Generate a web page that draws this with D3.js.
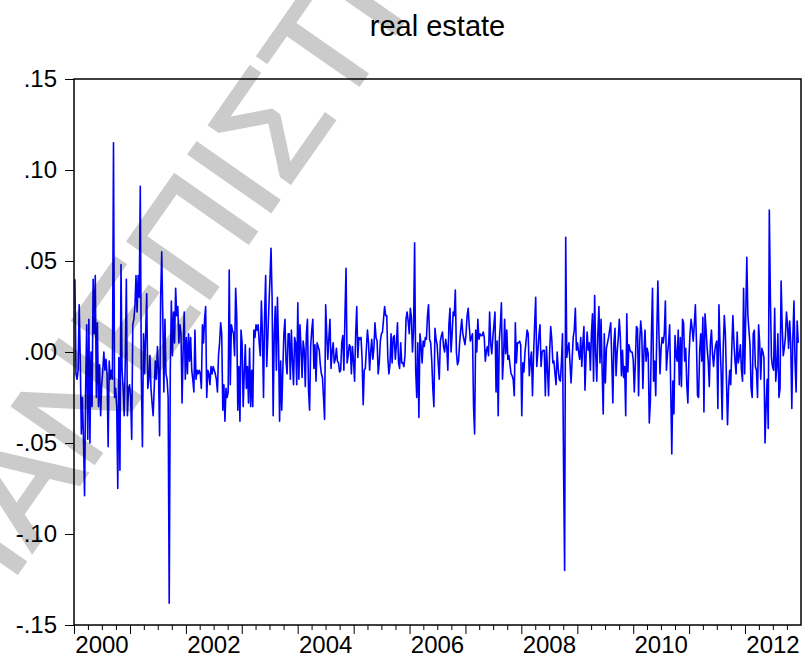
<!DOCTYPE html>
<html>
<head>
<meta charset="utf-8">
<script src="https://cdn.jsdelivr.net/npm/d3@7"></script>
<style>
    body { margin: 0; background: #fff; }
    svg { display: block; font-family: "Liberation Sans", Arial, sans-serif; }
</style>
</head>
<body>
<div id="chartContainer"></div>
<script>
/***** Data: weekly returns, one array per year (52 weeks each) */

const chartTitle = 'real estate';
const watermarkText = 'ΠΑΝΕΠΙΣΤΗΜΙΟ';
const years = [2000, 2001, 2002, 2003, 2004, 2005, 2006, 2007, 2008, 2009, 2010, 2011, 2012];
const firstWeek = '2000-01-07';

const r2000 = [.040,-.012,-.015,-.010,.026,-.005,-.045,-.025,-.048,-.079,-.020,.015,-.048,.018,-.050,.000,-.030,.040,.010,.042,-.025,.016,-.030,-.007,-.035,-.018,-.010,.000,-.010,-.004,-.012,-.052,-.005,-.015,-.010,-.015,.115,-.025,-.020,-.030,-.075,-.003,-.065,.048,-.010,-.020,-.035,-.005,.040,-.035,-.020,-.018];
const r2001 = [-.025,-.048,.015,.018,.025,.042,.022,.042,.030,.091,-.015,-.052,.010,-.012,.010,.032,-.020,-.015,-.002,-.020,-.028,-.035,-.020,-.005,-.015,.003,-.010,-.046,.030,.055,.020,-.022,.018,-.012,-.015,-.025,-.138,-.010,.028,-.002,.022,.005,.035,.020,.025,.005,.015,.010,-.028,.002,.022,-.015];
const r2002 = [.008,-.012,.010,-.005,.008,-.010,-.015,-.022,.012,-.015,-.010,-.012,-.010,-.012,-.020,.015,.005,.018,.025,-.025,-.010,-.012,-.018,-.008,-.012,-.008,-.010,-.012,-.015,-.022,-.002,.005,.016,.010,-.032,-.018,-.038,-.020,-.025,-.022,.045,-.018,.015,.012,.010,-.002,.035,.020,-.032,-.008,-.038,.012];
const r2003 = [.005,-.030,-.012,.004,-.020,-.008,-.028,.002,-.030,-.010,-.030,.012,.008,.015,.012,.015,.005,-.002,.028,.010,-.025,.020,.042,-.008,.008,.025,.040,.057,.030,-.035,.010,.025,-.010,.030,.005,-.038,-.005,-.032,-.010,.010,.018,-.005,-.012,.010,.010,-.015,.012,-.005,-.018,.008,.005,-.018];
const r2004 = [.027,-.015,.015,.002,-.014,.006,.001,-.019,.010,.018,-.021,-.032,.003,.012,.018,-.009,.004,-.016,.005,.003,.001,-.007,-.012,-.014,-.025,-.037,.026,.010,-.004,.008,.018,-.009,.000,.005,-.006,-.004,.002,-.005,-.006,-.011,-.010,.005,.009,-.010,.020,.046,-.006,-.002,.004,.003,-.012,.003];
const r2005 = [-.005,-.016,.010,.025,-.003,.008,.007,.008,-.004,-.029,-.010,-.009,.002,.012,.005,-.010,.000,.007,-.004,.002,.016,.008,.006,-.012,-.006,.006,.010,.011,.018,.025,.020,.020,-.003,-.012,-.007,.010,-.006,.008,.009,-.004,.004,.016,-.006,-.009,.005,-.006,-.006,-.008,-.002,.018,.022,.017];
const r2006 = [.010,.024,.019,.000,.012,.060,-.010,-.025,.005,-.036,.010,.004,-.006,.006,.003,.008,.007,.020,.026,.007,.005,-.005,-.020,-.030,.013,.007,.004,-.006,-.015,.006,.009,.011,.003,.000,.007,.003,-.010,.015,.024,.000,.010,.022,.020,.034,.000,-.007,-.005,.005,.012,.018,.010,.007];
const r2007 = [.004,.010,.020,.024,.014,.006,.008,.010,-.030,-.045,.012,.000,.018,.007,.010,.009,.009,.011,.008,-.005,.001,.003,-.002,.022,.005,-.001,.008,.015,.022,-.022,.006,-.035,.006,.015,.027,-.015,-.003,.018,-.001,.012,-.004,-.002,-.007,-.012,-.013,-.015,-.024,.016,-.006,.005,.005,.006];
const r2008 = [.004,-.035,-.006,-.011,.000,.006,.012,.010,-.013,-.005,.000,-.024,-.002,.015,.030,-.008,.000,.009,.015,-.008,.000,.001,.001,-.024,.003,-.010,-.024,.000,.014,.007,-.006,-.005,-.012,-.018,.000,-.009,-.015,-.016,-.006,.010,-.063,-.120,.063,-.003,.002,.005,-.006,-.017,-.004,.008,.012,.024];
const r2009 = [.001,.005,.000,-.004,.008,-.008,.005,.014,-.021,-.002,.011,.001,.005,-.010,.010,.021,-.016,.031,-.001,-.016,.010,.025,-.006,.018,-.010,-.034,.010,-.017,.002,.005,.008,.012,.016,-.004,-.028,.005,.013,-.013,.000,.007,.018,.008,-.013,.001,-.014,-.008,-.035,.021,-.011,.004,.001,.000];
const r2010 = [.000,-.004,-.022,-.006,.014,.013,-.024,.005,.017,.010,-.020,.000,.012,-.005,.002,-.001,-.039,-.027,.010,.035,-.016,-.005,-.024,.010,.039,.010,-.012,.002,.008,.005,.010,.028,-.010,-.001,.005,.015,-.020,-.056,-.016,-.034,.009,-.002,-.005,.012,-.018,.008,-.019,.018,.016,-.005,.002,-.018];
const r2011 = [-.028,-.003,.010,.018,.013,.006,.015,.026,.006,-.024,-.025,.000,.010,-.005,.019,-.033,.021,.012,.002,-.005,-.019,.005,.012,-.001,-.008,.000,.004,.006,-.031,.026,.005,-.010,-.037,.002,.020,.010,-.015,-.040,-.020,-.010,-.018,.002,.020,.005,-.005,-.012,.011,-.006,-.002,.004,-.010,-.016];
const r2012 = [.035,-.012,.020,.052,.020,.012,.004,-.020,-.025,.010,.012,-.008,-.010,-.025,.015,.005,-.015,.002,.000,-.003,-.050,-.030,-.015,-.042,.078,.030,-.003,-.008,-.010,.024,-.016,-.008,.010,-.025,-.020,.039,.015,-.002,.002,.008,.022,.015,.002,.017,.005,-.031,.008,.028,-.005,-.022,.017,.005];

const yTickValues = [-0.15, -0.10, -0.05, 0, 0.05, 0.10, 0.15];
const yTickLabels = ['-.15', '-.10', '-.05', '.00', '.05', '.10', '.15'];
const xLabelYears = [2000, 2002, 2004, 2006, 2008, 2010, 2012];

/***** Chart */

// input:
//  containerId - html id of the element the svg goes into
// output:
//  none
function drawChart (containerId) {
    const width = 804;
    const height = 666;
    const margin = { top: 79, right: 3, bottom: 41, left: 74 };

    const svg = d3.select(`#${containerId}`).append('svg')
        .attr('width', width)
        .attr('height', height);

    const allReturns = [].concat(r2000, r2001, r2002, r2003, r2004, r2005, r2006,
        r2007, r2008, r2009, r2010, r2011, r2012);
    const start = d3.timeParse('%Y-%m-%d')(firstWeek);
    const points = allReturns.map((value, i) => ({ date: d3.timeWeek.offset(start, i), value: value }));

    const x = d3.scaleTime()
        .domain([new Date(years[0], 0, 1), new Date(years[years.length - 1] + 1, 0, 1)])
        .range([margin.left, width - margin.right]);
    const y = d3.scaleLinear()
        .domain([-0.15, 0.15])
        .range([height - margin.bottom, margin.top]);

    // title
    svg.append('text')
        .attr('x', (margin.left + width - margin.right) / 2)
        .attr('y', 36)
        .attr('text-anchor', 'middle')
        .style('font-size', '29px')
        .text(chartTitle);

    // y axis, ticks outside on the left
    const yAxis = svg.append('g')
        .attr('transform', `translate(${margin.left},0)`)
        .call(d3.axisLeft(y)
            .tickValues(yTickValues)
            .tickFormat((d, i) => yTickLabels[i])
            .tickSize(9)
            .tickPadding(8));
    yAxis.select('.domain').remove();
    yAxis.selectAll('text')
        .style('font-size', '24px')
        .style('font-family', '"Liberation Sans", Arial, sans-serif')
        .attr('fill', '#000');
    yAxis.selectAll('line').attr('stroke', '#000');

    // x axis: quarterly minor ticks, longer ticks on each year
    const quarterTicks = d3.timeMonth.every(3).range(x.domain()[0], x.domain()[1]);
    const xAxis = svg.append('g')
        .attr('transform', `translate(0,${height - margin.bottom})`)
        .call(d3.axisBottom(x)
            .tickValues(quarterTicks)
            .tickFormat('')
            .tickSize(5));
    xAxis.select('.domain').remove();
    xAxis.selectAll('.tick line')
        .attr('stroke', '#000')
        .attr('y2', d => d.getMonth() === 0 ? 9 : 5);

    // year labels sit in the middle of their year
    svg.append('g')
        .selectAll('text')
        .data(xLabelYears)
        .enter()
        .append('text')
        .attr('x', yr => (x(new Date(yr, 0, 1)) + x(new Date(yr + 1, 0, 1))) / 2)
        .attr('y', 653)
        .attr('text-anchor', 'middle')
        .style('font-size', '24px')
        .text(yr => yr);

    // the series
    const line = d3.line()
        .x(d => x(d.date))
        .y(d => y(d.value));
    svg.append('path')
        .datum(points)
        .attr('fill', 'none')
        .attr('stroke', '#0000ff')
        .attr('stroke-width', 1.6)
        .attr('stroke-linejoin', 'round')
        .attr('d', line);

    // frame
    svg.append('rect')
        .attr('x', margin.left)
        .attr('y', margin.top)
        .attr('width', width - margin.left - margin.right)
        .attr('height', height - margin.top - margin.bottom)
        .attr('fill', 'none')
        .attr('stroke', '#000')
        .attr('stroke-width', 1.5);

    // diagonal grey watermark laid over everything
    svg.append('g')
        .attr('opacity', 0.2)
        .append('text')
        .attr('transform', 'translate(-28,638) rotate(-55)')
        .style('font-size', '145px')
        .attr('fill', '#000')
        .attr('stroke', '#000')
        .attr('stroke-width', 3)
        .text(watermarkText);
}

drawChart('chartContainer');
</script>
</body>
</html>
